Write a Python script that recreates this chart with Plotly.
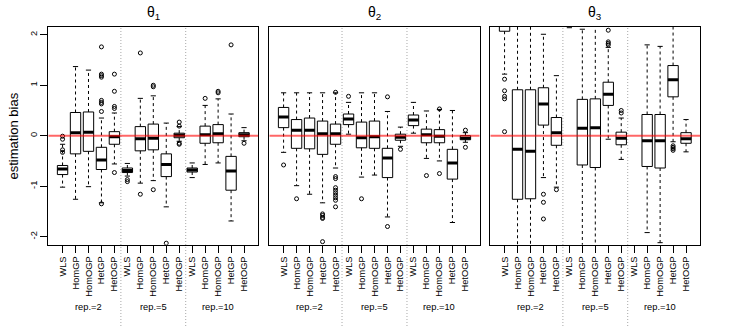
import plotly.graph_objects as go

methods = ["WLS", "HomGP", "HomOGP", "HetGP", "HetOGP"]
reps = ["rep.=2", "rep.=5", "rep.=10"]
params = ["θ<sub>1</sub>", "θ<sub>2</sub>", "θ<sub>3</sub>"]
y_ticks = [-2, -1, 0, 1, 2]
y_tick_labels = ["-2", "-1", "0", "1", "2"]
y_title = "estimation bias"

# ---- theta 1 (15 boxes: rep.=2, rep.=5, rep.=10 x methods)
t1_lower = [-1.02, -1.26, -1.01, -1.33, -0.56, -0.80, -0.94, -0.89, -1.41, -0.11, -0.83, -0.57, -0.54, -1.69, -0.10]
t1_q1 = [-0.77, -0.36, -0.31, -0.67, -0.17, -0.73, -0.30, -0.28, -0.81, -0.04, -0.72, -0.15, -0.14, -1.08, -0.02]
t1_med = [-0.66, 0.06, 0.07, -0.48, -0.02, -0.69, -0.06, -0.05, -0.57, 0.01, -0.68, 0.02, 0.04, -0.70, 0.02]
t1_q3 = [-0.59, 0.46, 0.47, -0.23, 0.08, -0.64, 0.18, 0.23, -0.36, 0.05, -0.64, 0.19, 0.22, -0.41, 0.06]
t1_upper = [-0.17, 1.37, 1.30, 0.35, 0.45, -0.55, 0.74, 0.79, 0.25, 0.18, -0.54, 0.60, 0.73, 0.43, 0.16]
t1_out = [
    [-0.01, -0.07, -0.28, -0.33], [], [],
    [1.76, 1.22, 1.19, 1.16, 0.70, 0.66, 0.63, 0.48, -1.35],
    [1.22, 0.88, 0.58, 0.54, -0.73],
    [-0.87, -0.91], [1.64, -1.16], [1.00, 0.97, -1.07], [-2.13], [0.27, 0.19, -0.15, -0.17],
    [], [0.74], [0.88, 0.85], [1.80], [-0.15],
]

# ---- theta 2
t2_lower = [-0.33, -0.99, -1.16, -1.33, -0.64, 0.03, -0.82, -0.78, -1.61, -0.21, 0.05, -0.45, -0.50, -1.72, -0.13]
t2_q1 = [0.16, -0.25, -0.26, -0.37, -0.17, 0.22, -0.24, -0.25, -0.83, -0.09, 0.20, -0.14, -0.14, -0.86, -0.08]
t2_med = [0.37, 0.11, 0.11, 0.04, 0.04, 0.33, -0.04, -0.02, -0.44, -0.03, 0.31, 0.02, -0.01, -0.54, -0.05]
t2_q3 = [0.56, 0.32, 0.35, 0.29, 0.23, 0.43, 0.27, 0.29, -0.25, 0.03, 0.41, 0.13, 0.12, -0.27, 0.00]
t2_upper = [0.85, 0.85, 0.85, 0.85, 0.85, 0.66, 0.85, 0.85, 0.48, 0.17, 0.66, 0.49, 0.52, 0.50, 0.06]
t2_out = [
    [-0.58], [-1.25], [], [-1.55, -1.58, -1.62, -1.64, -2.10],
    [0.86, -0.81, -0.85, -1.03, -1.08, -1.13, -1.18, -1.23, -1.28, -1.41],
    [0.78], [-1.25], [], [0.77, -1.80], [-0.27],
    [], [-0.79], [0.53, -0.75], [], [0.11, -0.23],
]

# ---- theta 3
t3_lower = [1.22, -2.80, -2.80, -0.83, -1.02, 2.14, -2.80, -2.80, -0.07, -0.47, 2.50, -1.92, -2.12, -0.12, -0.32]
t3_q1 = [2.07, -1.26, -1.25, 0.21, -0.19, 2.60, -0.58, -0.63, 0.60, -0.18, 3.00, -0.61, -0.64, 0.77, -0.15]
t3_med = [2.50, -0.27, -0.31, 0.63, 0.06, 3.00, 0.15, 0.16, 0.82, -0.05, 3.30, -0.10, -0.10, 1.11, -0.06]
t3_q3 = [2.90, 0.91, 0.91, 0.95, 0.36, 3.40, 0.72, 0.73, 1.06, 0.07, 3.60, 0.42, 0.42, 1.39, 0.06]
t3_upper = [3.50, 2.80, 2.80, 2.01, 1.19, 4.00, 2.11, 2.80, 1.75, 0.35, 4.20, 1.80, 1.77, 2.40, 0.32]
t3_out = [
    [1.12, 0.89, 0.78, 0.73, 0.08], [], [], [-1.16, -1.32, -1.65], [-1.07],
    [], [], [], [2.09, 1.86, 1.83, 1.80], [0.50, 0.45],
    [], [], [], [-0.20, -0.23, -0.26, -0.29], [],
]

panels = [
    (t1_lower, t1_q1, t1_med, t1_q3, t1_upper, t1_out),
    (t2_lower, t2_q1, t2_med, t2_q3, t2_upper, t2_out),
    (t3_lower, t3_q1, t3_med, t3_q3, t3_upper, t3_out),
]

W, H = 733, 326
x_domains = [(48.3, 258.3), (269.3, 479.7), (490.3, 700.3)]
y_dom = (1 - 244.7 / H, 1 - 26.7 / H)
XR = [-0.1, 16.1]
YR = [-2.16, 2.16]
BW = 0.4
SW = 0.2
FONT = "Liberation Sans, Arial, Helvetica, sans-serif"

fig = go.Figure()
tick_vals = list(range(1, 16))
tick_text = [m for _ in reps for m in methods]

for k, (lw, q1, med, q3, uw, outs) in enumerate(panels):
    xa = "x" if k == 0 else f"x{k+1}"
    ya = "y" if k == 0 else f"y{k+1}"
    wx, wy, bx, by, mx, my, sx, sy, ox, oy = [], [], [], [], [], [], [], [], [], []
    for i in range(15):
        p = tick_vals[i]
        wx += [p, p, None, p, p, None]
        wy += [q3[i], uw[i], None, q1[i], lw[i], None]
        bx += [p - BW, p + BW, p + BW, p - BW, p - BW, None]
        by += [q1[i], q1[i], q3[i], q3[i], q1[i], None]
        mx += [p - BW, p + BW, None]
        my += [med[i], med[i], None]
        sx += [p - SW, p + SW, None, p - SW, p + SW, None]
        sy += [uw[i], uw[i], None, lw[i], lw[i], None]
        for v in outs[i]:
            ox.append(p)
            oy.append(v)
    common = dict(xaxis=xa, yaxis=ya, showlegend=False, hoverinfo="skip")
    fig.add_trace(go.Scatter(x=wx, y=wy, mode="lines",
                             line=dict(color="black", width=1, dash="3px,3px"), **common))
    fig.add_trace(go.Scatter(x=bx, y=by, mode="lines",
                             line=dict(color="black", width=1), **common))
    fig.add_trace(go.Scatter(x=sx, y=sy, mode="lines",
                             line=dict(color="black", width=1), **common))
    fig.add_trace(go.Scatter(x=mx, y=my, mode="lines",
                             line=dict(color="black", width=3), **common))
    fig.add_trace(go.Scatter(x=ox, y=oy, mode="markers",
                             marker=dict(symbol="circle-open", size=4, color="black",
                                         line=dict(width=1, color="black")), **common))

    dom = [x_domains[k][0] / W, x_domains[k][1] / W]
    xkey = "xaxis" if k == 0 else f"xaxis{k+1}"
    ykey = "yaxis" if k == 0 else f"yaxis{k+1}"
    fig.update_layout(**{
        xkey: dict(domain=dom, range=XR, anchor=ya, tickmode="array",
                   tickvals=tick_vals, ticktext=tick_text, tickangle=-90,
                   ticks="outside", ticklen=7, tickcolor="black", tickwidth=1,
                   showline=True, mirror=True, linecolor="black", linewidth=1,
                   showgrid=False, zeroline=False, automargin=False,
                   tickfont=dict(family=FONT, size=9.3, color="black")),
        ykey: dict(domain=list(y_dom), range=YR, anchor=xa, tickmode="array",
                   tickvals=y_ticks, ticktext=y_tick_labels, tickangle=-90,
                   ticks="outside" if k == 0 else "", ticklen=7, tickcolor="black",
                   showticklabels=(k == 0),
                   showline=True, mirror=True, linecolor="black", linewidth=1,
                   showgrid=False, zeroline=False, automargin=False,
                   tickfont=dict(family=FONT, size=9.3, color="black")),
    })

    # group separators (dotted, extending below the plot)
    for sep in [5.5, 10.5]:
        fig.add_shape(type="line", xref=xa, yref="paper", x0=sep, x1=sep,
                      y0=0.0, y1=y_dom[1], line=dict(color="#a8a8a8", width=1, dash="1px,2px"),
                      layer="above")
    # zero reference line
    fig.add_shape(type="line", xref=xa, yref=ya, x0=XR[0], x1=XR[1], y0=0, y1=0,
                  line=dict(color="rgba(255,0,0,0.6)", width=2), layer="above")
    # panel title
    fig.add_annotation(text=params[k], xref=xa, yref="paper", x=8, y=1 - 13 / H,
                       showarrow=False, yanchor="middle",
                       font=dict(family=FONT, size=14, color="black"))
    # group labels
    for g, lab in enumerate(reps):
        fig.add_annotation(text=lab, xref=xa, yref="paper", x=3 + 5 * g, y=1 - 307 / H,
                           showarrow=False, yanchor="middle",
                           font=dict(family=FONT, size=9.3, color="black"))

fig.add_annotation(text=y_title, xref="paper", yref="paper", x=12.5 / W,
                   y=1 - 136 / H, textangle=-90, showarrow=False,
                   xanchor="center", yanchor="middle",
                   font=dict(family=FONT, size=13, color="black"))

fig.update_layout(width=W, height=H, margin=dict(l=0, r=0, t=0, b=0),
                  paper_bgcolor="white", plot_bgcolor="white", showlegend=False)

fig.write_html("out.html", config={"displayModeBar": False, "staticPlot": True},
               post_script="document.body.style.margin='0px';document.body.style.padding='0px';")
